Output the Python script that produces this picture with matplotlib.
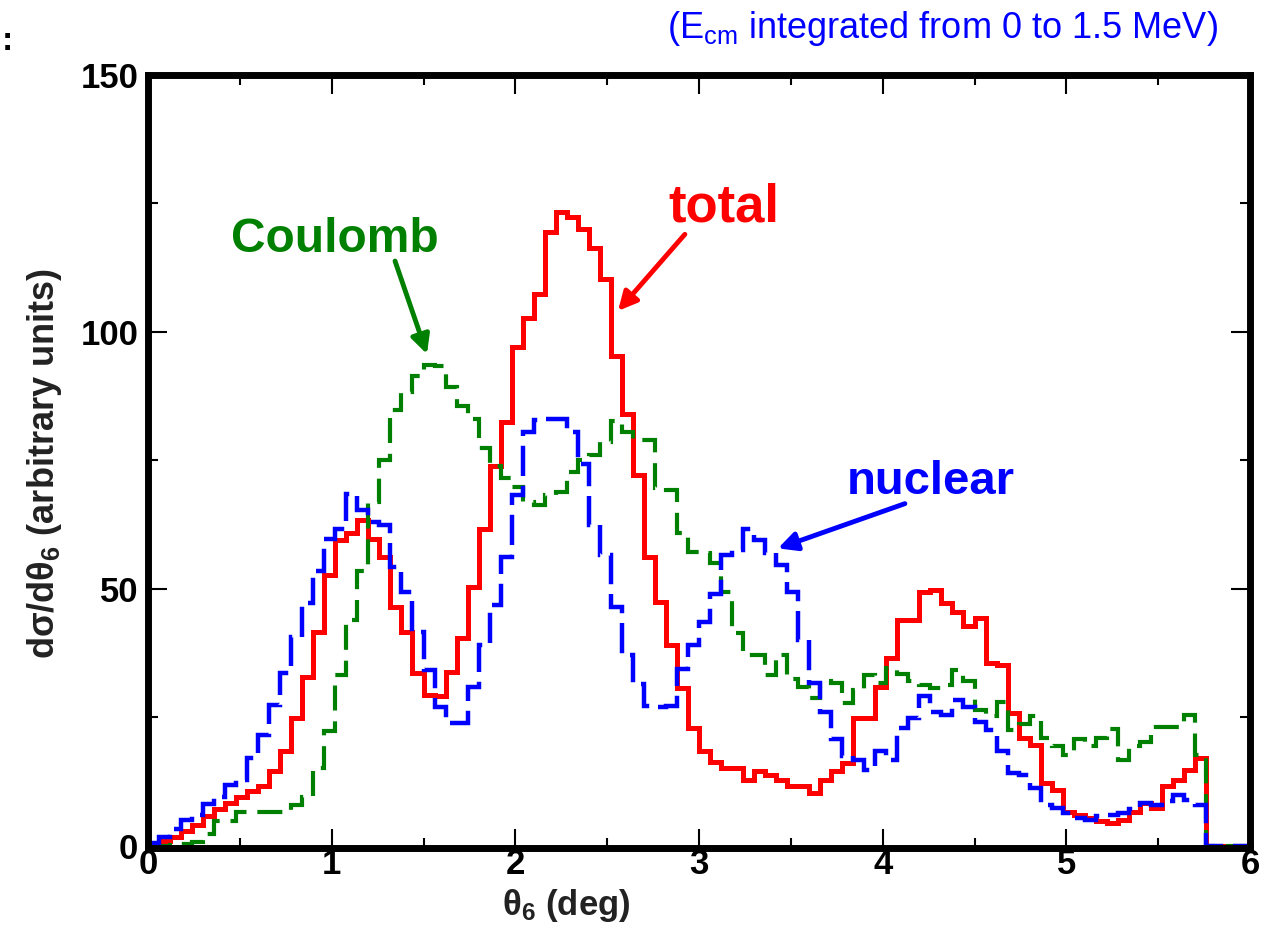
import numpy as np
import matplotlib
matplotlib.use("Agg")
import matplotlib.pyplot as plt

plt.rcParams['font.family'] = ['Liberation Sans', 'DejaVu Sans']
plt.rcParams['mathtext.fontset'] = 'custom'
plt.rcParams['mathtext.rm'] = 'Liberation Sans'
plt.rcParams['mathtext.bf'] = 'Liberation Sans:bold'
plt.rcParams['mathtext.default'] = 'regular'

# ---- data (theta_6 histogram, bin width 0.06 deg, 0..6 deg) ----
bin_width = 0.06
n_bins = 100

total = [0.5, 0.9, 1.7, 2.9, 4.1, 5.8, 7.1, 8.3, 9.6, 10.6,
         11.6, 14.5, 18.4, 24.9, 32.9, 41.7, 52.7, 59.5, 60.8, 63.4,
         59.8, 56.2, 46.5, 41.7, 33.6, 29.4, 29.1, 33.9, 40.4, 50.4,
         61.7, 74.0, 82.5, 97.0, 102.8, 107.4, 119.4, 123.4, 122.3, 120.0,
         116.4, 110.3, 95.4, 84.1, 72.1, 56.2, 47.5, 39.1, 30.7, 22.9,
         18.4, 16.4, 15.1, 15.1, 12.9, 14.5, 13.8, 12.9, 11.6, 11.6,
         10.3, 12.9, 14.5, 16.1, 24.9, 24.9, 31.0, 36.5, 43.9, 43.9,
         49.5, 49.8, 47.2, 45.6, 42.7, 44.3, 35.5, 35.2, 25.8, 21.0,
         19.7, 12.2, 10.9, 6.7, 6.1, 5.4, 4.8, 4.5, 5.1, 6.7,
         8.3, 7.4, 11.6, 12.9, 14.8, 17.1, 0, 0, 0, 0]

nuclear = [0.5, 1.7, 3.2, 5.1, 6.1, 8.2, 9.6, 11.9, 12.9, 17.1,
           21.6, 27.4, 33.6, 40.7, 47.2, 53.5, 59.8, 61.7, 68.5, 65.3,
           63.0, 62.4, 54.3, 49.5, 41.7, 34.2, 27.0, 23.9, 23.9, 31.0,
           39.1, 46.9, 56.3, 68.2, 80.5, 82.8, 83.0, 83.0, 80.5, 74.3,
           62.4, 56.6, 46.5, 37.1, 31.5, 27.2, 27.1, 27.2, 34.5, 39.1,
           43.6, 49.1, 56.6, 57.5, 61.7, 59.5, 56.9, 54.6, 49.4, 40.1,
           31.7, 26.1, 20.8, 17.5, 16.8, 14.7, 18.4, 16.8, 22.9, 24.9,
           29.1, 26.1, 25.5, 28.4, 27.1, 24.2, 22.6, 18.4, 14.2, 13.8,
           11.3, 8.0, 7.4, 6.4, 5.4, 5.0, 5.8, 6.1, 6.5, 7.2,
           8.3, 8.0, 8.7, 10.0, 9.0, 8.0, 0, 0, 0, 0]

coulomb = [0, 0, 0.2, 0.4, 0.8, 2.3, 4.8, 4.8, 6.6, 6.6,
           6.6, 6.7, 6.7, 7.9, 9.6, 15.1, 22.3, 33.3, 43.9, 53.4,
           66.9, 75.0, 84.9, 88.3, 91.5, 93.6, 93.3, 89.2, 85.6, 83.1,
           77.5, 74.0, 71.5, 69.8, 66.9, 66.4, 68.2, 68.9, 72.7, 75.0,
           76.0, 78.6, 82.6, 80.5, 79.0, 79.0, 69.6, 69.2, 60.8, 57.1,
           56.9, 55.0, 49.4, 41.4, 37.2, 37.2, 33.3, 37.2, 32.5, 31.0,
           28.7, 32.0, 31.7, 27.8, 30.4, 33.3, 31.7, 34.6, 33.4, 32.0,
           31.3, 30.7, 31.3, 34.2, 32.0, 26.4, 25.2, 28.1, 22.6, 23.7,
           25.2, 21.0, 19.4, 17.7, 20.8, 19.4, 21.0, 22.7, 16.8, 19.5,
           20.3, 23.1, 23.1, 23.1, 25.4, 17.7, 0, 0, 0, 0]

x_ticks = [0, 1, 2, 3, 4, 5, 6]
y_ticks = [0, 50, 100, 150]

edges = np.arange(n_bins + 1) * bin_width

# ---- figure ----
W, H = 1265, 940
fig = plt.figure(figsize=(W / 100, H / 100), dpi=100)
ax = fig.add_axes([148 / W, 92 / H, (1250 - 148) / W, (848 - 75) / H])

RED = '#ff0000'
BLUE = '#0000ff'
GREEN = '#008000'

ax.stairs(total, edges, color=RED, lw=3.6, zorder=3, baseline=None)
ax.stairs(coulomb, edges, color=GREEN, lw=3.0, zorder=4, baseline=None,
          linestyle=(0, (6.0, 2.6)))
ax.stairs(nuclear, edges, color=BLUE, lw=3.2, zorder=5, baseline=None,
          linestyle=(0, (6.8, 2.2)))

ax.set_xlim(0, 6)
ax.set_ylim(-0.4, 150)
ax.set_xticks(x_ticks)
ax.set_yticks(y_ticks)
ax.set_xticks(np.arange(0.5, 6, 1.0), minor=True)
ax.set_yticks([25, 75, 125], minor=True)
ax.tick_params(which='both', direction='in', top=True, right=True, width=1.5,
               labelsize=25)
ax.tick_params(which='major', length=14)
ax.tick_params(which='minor', length=7)
ax.tick_params(axis='x', pad=0)
ax.tick_params(axis='y', pad=7)
for lab in ax.get_xticklabels() + ax.get_yticklabels():
    lab.set_fontweight('bold')
for sp in ax.spines.values():
    sp.set_linewidth(5)
    sp.set_zorder(10)

# labels
fig.text(566 / W, 1 - 906 / H, r'θ$_{6}$ (deg)', ha='center', va='center',
         fontsize=25, fontweight='bold', color='#222222')
fig.text(45 / W, 1 - 463 / H, r'dσ/dθ$_{6}$ (arbitrary units)', ha='center',
         va='center', rotation=90, fontsize=26, fontweight='bold', color='#222222')
fig.text(1218 / W, 1 - 28 / H, r'(E$_{cm}$ integrated from 0 to 1.5 MeV)',
         ha='right', va='center', fontsize=26, color=BLUE)
fig.text(2 / W, 1 - 42 / H, ':', ha='left', va='center', fontsize=24,
         fontweight='bold', color='black')

# annotations
ax.text(1.018, 118.0, 'Coulomb', color=GREEN, fontsize=34.5, fontweight='bold',
        ha='center', va='center')
ax.text(3.135, 124.3, 'total', color=RED, fontsize=38, fontweight='bold',
        ha='center', va='center')
ax.text(4.26, 70.9, 'nuclear', color=BLUE, fontsize=34, fontweight='bold',
        ha='center', va='center')

arrow_kw = dict(arrowstyle='-|>', lw=3.5, mutation_scale=28, shrinkA=0, shrinkB=0)
ax.annotate('', xy=(1.519, 95.7), xytext=(1.345, 113.8),
            arrowprops=dict(color=GREEN, **arrow_kw))
ax.annotate('', xy=(2.559, 104.1), xytext=(2.923, 119.0),
            arrowprops=dict(color=RED, **arrow_kw))
ax.annotate('', xy=(3.43, 57.9), xytext=(4.121, 66.6),
            arrowprops=dict(color=BLUE, **arrow_kw))

fig.savefig('out.png', dpi=100)
